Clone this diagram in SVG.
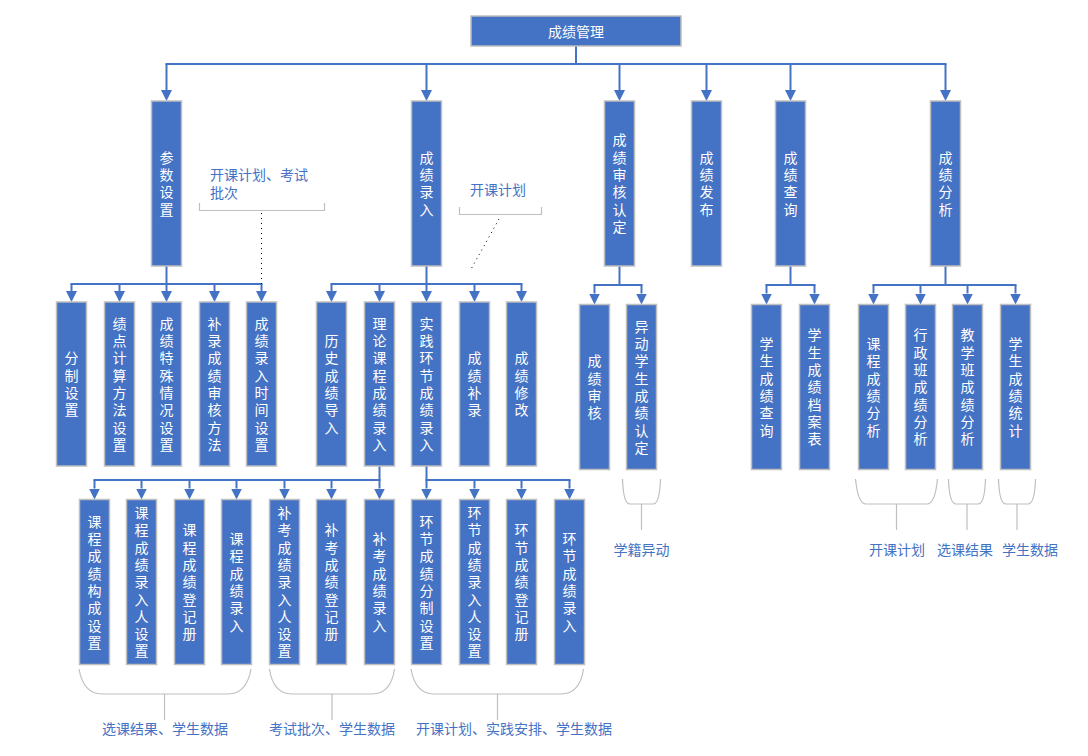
<svg xmlns="http://www.w3.org/2000/svg" width="1088" height="756" viewBox="0 0 1088 756">
<style>
.box{fill:#4472C4;stroke:#BFBFBF;stroke-width:1.5}
.t{fill:#FFFFFF;font-family:"Noto Sans CJK SC","Microsoft YaHei",sans-serif;font-size:14px;text-anchor:middle;dominant-baseline:central}
.v{fill:#FFFFFF;font-family:"Noto Sans CJK SC","Microsoft YaHei",sans-serif;font-size:14px;text-anchor:middle;writing-mode:vertical-rl;text-orientation:upright;letter-spacing:3.3px}
.a{fill:#4472C4;font-family:"Noto Sans CJK SC","Microsoft YaHei",sans-serif;font-size:14px;dominant-baseline:central}
.c{stroke:#4472C4;stroke-width:2;fill:none}
.ca{stroke:#4472C4;stroke-width:2;fill:none;marker-end:url(#arr)}
.br{stroke:#BFBFBF;stroke-width:1.2;fill:none}
.dot{stroke:#000;stroke-width:1;stroke-dasharray:1 4;fill:none}
</style>
<defs>
<marker id="arr" markerUnits="userSpaceOnUse" markerWidth="11" markerHeight="11" refX="0" refY="5.5" orient="auto">
<path d="M0,0 L11,5.5 L0,11 z" fill="#4472C4"/>
</marker>
</defs>
<rect width="1088" height="756" fill="#FFFFFF"/>
<g id="connectors">
<path class="c" d="M576 46 V64"/>
<path class="c" d="M166.5 64 H945.5" stroke-linecap="square"/>
<path class="ca" d="M166.5 64 V90"/>
<path class="ca" d="M426.5 64 V90"/>
<path class="ca" d="M619.5 64 V90"/>
<path class="ca" d="M706.5 64 V90"/>
<path class="ca" d="M790.5 64 V90"/>
<path class="ca" d="M945.5 64 V90"/>
<path class="c" d="M166.5 266 V284"/>
<path class="c" d="M71.5 284 H261.5" stroke-linecap="square"/>
<path class="ca" d="M71.5 284 V291"/>
<path class="ca" d="M119.5 284 V291"/>
<path class="ca" d="M166.5 284 V291"/>
<path class="ca" d="M214.5 284 V291"/>
<path class="ca" d="M261.5 284 V291"/>
<path class="c" d="M426.5 266 V284"/>
<path class="c" d="M331.5 284 H521.5" stroke-linecap="square"/>
<path class="ca" d="M331.5 284 V291"/>
<path class="ca" d="M379.5 284 V291"/>
<path class="ca" d="M426.5 284 V291"/>
<path class="ca" d="M474.5 284 V291"/>
<path class="ca" d="M521.5 284 V291"/>
<path class="c" d="M619.5 266 V285"/>
<path class="c" d="M594.5 285 H641.5" stroke-linecap="square"/>
<path class="ca" d="M594.5 285 V293.5"/>
<path class="ca" d="M641.5 285 V293.5"/>
<path class="c" d="M790.5 266 V285"/>
<path class="c" d="M766.5 285 H814.5" stroke-linecap="square"/>
<path class="ca" d="M766.5 285 V293.5"/>
<path class="ca" d="M814.5 285 V293.5"/>
<path class="c" d="M945.5 266 V285"/>
<path class="c" d="M873.5 285 H1015.5" stroke-linecap="square"/>
<path class="ca" d="M873.5 285 V293.5"/>
<path class="ca" d="M920.5 285 V293.5"/>
<path class="ca" d="M967.5 285 V293.5"/>
<path class="ca" d="M1015.5 285 V293.5"/>
<path class="c" d="M379.5 466 V480"/>
<path class="c" d="M94.5 480 H379.5" stroke-linecap="square"/>
<path class="ca" d="M94.5 480 V488.5"/>
<path class="ca" d="M141.5 480 V488.5"/>
<path class="ca" d="M189.5 480 V488.5"/>
<path class="ca" d="M236.5 480 V488.5"/>
<path class="ca" d="M284.5 480 V488.5"/>
<path class="ca" d="M331.5 480 V488.5"/>
<path class="ca" d="M379.5 480 V488.5"/>
<path class="c" d="M426.5 466 V480"/>
<path class="c" d="M426.5 480 H569.5" stroke-linecap="square"/>
<path class="ca" d="M426.5 480 V488.5"/>
<path class="ca" d="M474.5 480 V488.5"/>
<path class="ca" d="M521.5 480 V488.5"/>
<path class="ca" d="M569.5 480 V488.5"/>
</g>
<g id="annotations">
<text class="a" x="210" y="174">开课计划、考试</text>
<text class="a" x="210" y="192">批次</text>
<path class="br" d="M199.5 203 V210.5 H324.5 V203"/>
<path class="dot" d="M261.5 213 V284"/>
<text class="a" x="470" y="189">开课计划</text>
<path class="br" d="M459.5 207 V214.5 H541.5 V207"/>
<path class="dot" d="M499 219 L470 271"/>
<path class="br" d="M79 669 C 82 686, 90 694, 102 694 L 228 694 C 240 694, 248 686, 251 669 M164.5 694 V720"/>
<text class="a" x="165" y="728" text-anchor="middle">选课结果、学生数据</text>
<path class="br" d="M269.5 669 C 272 686, 280 694, 292 694 L 372 694 C 384 694, 392 686, 394.5 669 M332 694 V720"/>
<text class="a" x="332" y="728" text-anchor="middle">考试批次、学生数据</text>
<path class="br" d="M411 669 C 414 686, 422 694, 434 694 L 561 694 C 573 694, 581 686, 583.5 669 M497.5 694 V720"/>
<text class="a" x="416" y="728">开课计划、实践安排、学生数据</text>
<path class="br" d="M622.5 479 C 623 495, 625 504, 630 504 L 653 504 C 658 504, 660 495, 660.5 479 M641.5 504 V530"/>
<text class="a" x="641.5" y="549" text-anchor="middle">学籍异动</text>
<path class="br" d="M855.5 479 C 857 494, 860 504, 866 504 L 927 504 C 933 504, 936 494, 937.5 479 M896.5 504 V530"/>
<text class="a" x="897" y="549" text-anchor="middle">开课计划</text>
<path class="br" d="M948.5 479 C 949 495, 951 504, 956 504 L 978 504 C 983 504, 985 495, 985.5 479 M967 504 V530"/>
<text class="a" x="965" y="549" text-anchor="middle">选课结果</text>
<path class="br" d="M998.5 479 C 999 495, 1001 504, 1006 504 L 1028 504 C 1033 504, 1035 495, 1035.5 479 M1017 504 V530"/>
<text class="a" x="1030" y="549" text-anchor="middle">学生数据</text>
</g>
<g id="n0"><rect class="box" x="471" y="16" width="210" height="30"/><text class="t" x="576" y="31">成绩管理</text></g>
<g id="n1"><rect class="box" x="151.5" y="101" width="30" height="165"/><text class="v" x="166.5" y="185">参数设置</text></g>
<g id="n2"><rect class="box" x="411.5" y="101" width="30" height="165"/><text class="v" x="426.5" y="185">成绩录入</text></g>
<g id="n3"><rect class="box" x="604.5" y="101" width="30" height="165"/><text class="v" x="619.5" y="185">成绩审核认定</text></g>
<g id="n4"><rect class="box" x="691.5" y="101" width="30" height="165"/><text class="v" x="706.5" y="185">成绩发布</text></g>
<g id="n5"><rect class="box" x="775.5" y="101" width="30" height="165"/><text class="v" x="790.5" y="185">成绩查询</text></g>
<g id="n6"><rect class="box" x="930.5" y="101" width="30" height="165"/><text class="v" x="945.5" y="185">成绩分析</text></g>
<g id="n11"><rect class="box" x="56.5" y="302" width="30" height="164"/><text class="v" x="71.5" y="385.6">分制设置</text></g>
<g id="n12"><rect class="box" x="104.5" y="302" width="30" height="164"/><text class="v" x="119.5" y="385.6">绩点计算方法设置</text></g>
<g id="n13"><rect class="box" x="151.5" y="302" width="30" height="164"/><text class="v" x="166.5" y="385.6">成绩特殊情况设置</text></g>
<g id="n14"><rect class="box" x="199.5" y="302" width="30" height="164"/><text class="v" x="214.5" y="385.6">补录成绩审核方法</text></g>
<g id="n15"><rect class="box" x="246.5" y="302" width="30" height="164"/><text class="v" x="261.5" y="385.6">成绩录入时间设置</text></g>
<g id="n21"><rect class="box" x="316.5" y="302" width="30" height="164"/><text class="v" x="331.5" y="385.6">历史成绩导入</text></g>
<g id="n22"><rect class="box" x="364.5" y="302" width="30" height="164"/><text class="v" x="379.5" y="385.6">理论课程成绩录入</text></g>
<g id="n23"><rect class="box" x="411.5" y="302" width="30" height="164"/><text class="v" x="426.5" y="385.6">实践环节成绩录入</text></g>
<g id="n24"><rect class="box" x="459.5" y="302" width="30" height="164"/><text class="v" x="474.5" y="385.6">成绩补录</text></g>
<g id="n25"><rect class="box" x="506.5" y="302" width="30" height="164"/><text class="v" x="521.5" y="385.6">成绩修改</text></g>
<g id="n31"><rect class="box" x="579.5" y="304.5" width="30" height="165"/><text class="v" x="594.5" y="388.6">成绩审核</text></g>
<g id="n32"><rect class="box" x="626.5" y="304.5" width="30" height="165"/><text class="v" x="641.5" y="388.6">异动学生成绩认定</text></g>
<g id="n51"><rect class="box" x="751.5" y="304.5" width="30" height="165"/><text class="v" x="766.5" y="388.6">学生成绩查询</text></g>
<g id="n52"><rect class="box" x="799.5" y="304.5" width="30" height="165"/><text class="v" x="814.5" y="388.6">学生成绩档案表</text></g>
<g id="n61"><rect class="box" x="858.5" y="304.5" width="30" height="165"/><text class="v" x="873.5" y="388.6">课程成绩分析</text></g>
<g id="n62"><rect class="box" x="905.5" y="304.5" width="30" height="165"/><text class="v" x="920.5" y="388.6">行政班成绩分析</text></g>
<g id="n63"><rect class="box" x="952.5" y="304.5" width="30" height="165"/><text class="v" x="967.5" y="388.6">教学班成绩分析</text></g>
<g id="n64"><rect class="box" x="1000.5" y="304.5" width="30" height="165"/><text class="v" x="1015.5" y="388.6">学生成绩统计</text></g>
<g id="n221"><rect class="box" x="79.5" y="499.5" width="30" height="165"/><text class="v" x="94.5" y="583.6">课程成绩构成设置</text></g>
<g id="n222"><rect class="box" x="126.5" y="499.5" width="30" height="165"/><text class="v" x="141.5" y="583.6">课程成绩录入人设置</text></g>
<g id="n223"><rect class="box" x="174.5" y="499.5" width="30" height="165"/><text class="v" x="189.5" y="583.6">课程成绩登记册</text></g>
<g id="n224"><rect class="box" x="221.5" y="499.5" width="30" height="165"/><text class="v" x="236.5" y="583.6">课程成绩录入</text></g>
<g id="n225"><rect class="box" x="269.5" y="499.5" width="30" height="165"/><text class="v" x="284.5" y="583.6">补考成绩录入人设置</text></g>
<g id="n226"><rect class="box" x="316.5" y="499.5" width="30" height="165"/><text class="v" x="331.5" y="583.6">补考成绩登记册</text></g>
<g id="n227"><rect class="box" x="364.5" y="499.5" width="30" height="165"/><text class="v" x="379.5" y="583.6">补考成绩录入</text></g>
<g id="n231"><rect class="box" x="411.5" y="499.5" width="30" height="165"/><text class="v" x="426.5" y="583.6">环节成绩分制设置</text></g>
<g id="n232"><rect class="box" x="459.5" y="499.5" width="30" height="165"/><text class="v" x="474.5" y="583.6">环节成绩录入人设置</text></g>
<g id="n233"><rect class="box" x="506.5" y="499.5" width="30" height="165"/><text class="v" x="521.5" y="583.6">环节成绩登记册</text></g>
<g id="n234"><rect class="box" x="554.5" y="499.5" width="30" height="165"/><text class="v" x="569.5" y="583.6">环节成绩录入</text></g>
</svg>
